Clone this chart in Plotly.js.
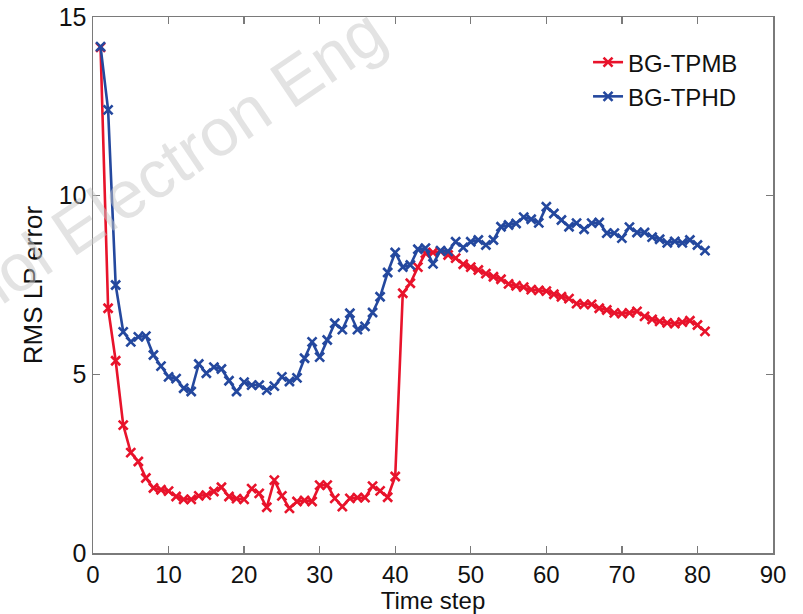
<!DOCTYPE html>
<html>
<head>
<meta charset="utf-8">
<script src="https://cdn.plot.ly/plotly-3.0.1.min.js"></script>
<style>html,body{margin:0;padding:0;background:#fff;}#chart{width:803px;height:614px;}</style>
</head>
<body>
<div id="chart"></div>
<script>
var timeSteps = [1,2,3,4,5,6,7,8,9,10,11,12,13,14,15,16,17,18,19,20,
  21,22,23,24,25,26,27,28,29,30,31,32,33,34,35,36,37,38,39,40,
  41,42,43,44,45,46,47,48,49,50,51,52,53,54,55,56,57,58,59,60,
  61,62,63,64,65,66,67,68,69,70,71,72,73,74,75,76,77,78,79,80,81];

var tpmb = [14.15,6.85,5.38,3.58,2.81,2.56,2.10,1.82,1.77,1.73,
  1.58,1.50,1.50,1.60,1.62,1.72,1.84,1.58,1.52,1.50,
  1.80,1.67,1.28,2.04,1.60,1.25,1.44,1.47,1.44,1.90,
  1.90,1.53,1.30,1.53,1.55,1.55,1.87,1.74,1.56,2.14,
  7.27,7.55,8.00,8.39,8.41,8.44,8.34,8.25,8.08,8.00,
  7.92,7.82,7.73,7.66,7.53,7.48,7.44,7.37,7.35,7.33,
  7.24,7.17,7.12,6.98,6.96,6.96,6.85,6.80,6.72,6.70,
  6.72,6.76,6.62,6.54,6.48,6.44,6.42,6.46,6.50,6.38,6.20];

var tphd = [14.17,12.40,7.50,6.19,5.91,6.05,6.07,5.54,5.23,4.93,
  4.88,4.61,4.52,5.29,5.03,5.20,5.15,4.82,4.52,4.78,
  4.70,4.70,4.56,4.67,4.93,4.80,4.90,5.45,5.91,5.48,
  5.96,6.43,6.25,6.71,6.25,6.34,6.73,7.17,7.85,8.41,
  8.00,8.06,8.50,8.53,8.09,8.46,8.44,8.71,8.55,8.71,
  8.76,8.62,8.76,9.13,9.18,9.22,9.40,9.34,9.24,9.69,
  9.50,9.32,9.13,9.23,9.06,9.23,9.25,8.95,8.95,8.81,
  9.12,8.97,8.97,8.84,8.78,8.68,8.72,8.68,8.76,8.62,8.46];

var seriesNames = ['BG-TPMB', 'BG-TPHD'];
var xTicks = [0,10,20,30,40,50,60,70,80,90];
var yTicks = [0,5,10,15];

var RED = '#E8132B';
var BLUE = '#24489E';
var FONT = 'Liberation Sans, Arial, Helvetica, sans-serif';

function mk(y, name, color) {
  return {
    x: timeSteps, y: y, name: name, type: 'scatter', mode: 'lines+markers',
    line: {color: color, width: 2.6},
    marker: {symbol: 'x-thin', size: 9, color: color, line: {color: color, width: 2.6}},
    cliponaxis: false
  };
}

var data = [mk(tpmb, seriesNames[0], RED), mk(tphd, seriesNames[1], BLUE)];

var axisCommon = {
  showgrid: false, zeroline: false, showline: true, linecolor: '#7a7a7a', linewidth: 1.5,
  mirror: 'ticks', ticks: 'inside', ticklen: 7, tickwidth: 1.3, tickcolor: '#7a7a7a',
  tickfont: {family: FONT, size: 25, color: '#111'}
};

var layout = {
  width: 803, height: 614,
  margin: {l: 93, r: 30, t: 17, b: 61},
  paper_bgcolor: '#fff', plot_bgcolor: '#fff',
  showlegend: true,
  legend: {x: 0.728, y: 0.957, xanchor: 'left', yanchor: 'top',
    font: {family: FONT, size: 24, color: '#111'}, bgcolor: 'rgba(0,0,0,0)', borderwidth: 0,
    tracegroupgap: 0},
  xaxis: Object.assign({}, axisCommon, {
    range: [0, 90], tickvals: xTicks, ticktext: xTicks.map(String),
    tickfont: {family: FONT, size: 24, color: '#111'},
    title: {text: 'Time step', font: {family: FONT, size: 24, color: '#111'}, standoff: 3}
  }),
  yaxis: Object.assign({}, axisCommon, {
    range: [0, 15], tickvals: yTicks, ticktext: yTicks.map(String),
    title: {text: 'RMS LP error', font: {family: FONT, size: 26, color: '#111'}, standoff: 8}
  }),
  annotations: [{
    text: 'Technol Electron Eng', xref: 'paper', yref: 'paper', showarrow: false,
    x: 0.031, y: 0.656, xanchor: 'center', yanchor: 'middle',
    textangle: -34, font: {family: FONT, size: 67, color: 'rgba(200,200,200,0.5)'}
  }]
};

Plotly.newPlot('chart', data, layout, {displayModeBar: false, staticPlot: true});
</script>
</body>
</html>
